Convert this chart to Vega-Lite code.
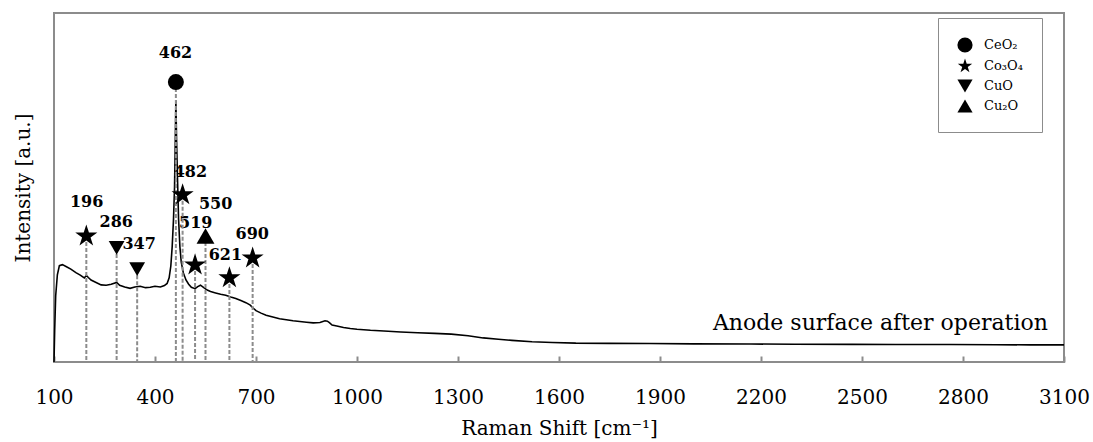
{
  "$schema": "https://vega.github.io/schema/vega-lite/v6.json",
  "width": 1010,
  "height": 349,
  "autosize": {"type": "none"},
  "padding": {"left": 54, "top": 13, "right": 29, "bottom": 80},
  "background": "white",
  "config": {
    "view": {"stroke": "#8c8c8c", "strokeWidth": 2},
    "font": "DejaVu Serif"
  },
  "datasets": {
    "spectrum": [
      {"shift": 100, "intensity": 0}, {"shift": 102, "intensity": 9}, {"shift": 105, "intensity": 19},
      {"shift": 110, "intensity": 25}, {"shift": 116, "intensity": 27.6}, {"shift": 125, "intensity": 27.9},
      {"shift": 137, "intensity": 27.3}, {"shift": 150, "intensity": 26.6}, {"shift": 165, "intensity": 25.6},
      {"shift": 178, "intensity": 24.9}, {"shift": 190, "intensity": 24.1}, {"shift": 196, "intensity": 24.8},
      {"shift": 202, "intensity": 24.2}, {"shift": 210, "intensity": 23.5}, {"shift": 225, "intensity": 22.8},
      {"shift": 240, "intensity": 22.1}, {"shift": 255, "intensity": 22.0}, {"shift": 270, "intensity": 22.3},
      {"shift": 286, "intensity": 22.8}, {"shift": 295, "intensity": 22.0}, {"shift": 310, "intensity": 21.5},
      {"shift": 326, "intensity": 21.1}, {"shift": 340, "intensity": 21.5}, {"shift": 356, "intensity": 21.7},
      {"shift": 372, "intensity": 21.3}, {"shift": 386, "intensity": 21.4}, {"shift": 400, "intensity": 21.7},
      {"shift": 416, "intensity": 21.5}, {"shift": 428, "intensity": 21.9}, {"shift": 436, "intensity": 22.5},
      {"shift": 442, "intensity": 24.1}, {"shift": 447, "intensity": 27.5}, {"shift": 451, "intensity": 33},
      {"shift": 455, "intensity": 41}, {"shift": 458, "intensity": 50}, {"shift": 460, "intensity": 62},
      {"shift": 462, "intensity": 75}, {"shift": 464, "intensity": 64}, {"shift": 467, "intensity": 52},
      {"shift": 470, "intensity": 41}, {"shift": 474, "intensity": 33}, {"shift": 478, "intensity": 28.6},
      {"shift": 484, "intensity": 25.6}, {"shift": 492, "intensity": 23.5}, {"shift": 500, "intensity": 22.3},
      {"shift": 508, "intensity": 21.4}, {"shift": 519, "intensity": 21.0}, {"shift": 527, "intensity": 21.6},
      {"shift": 535, "intensity": 22.0}, {"shift": 545, "intensity": 21.3}, {"shift": 555, "intensity": 20.6},
      {"shift": 565, "intensity": 20.2}, {"shift": 580, "intensity": 19.8}, {"shift": 595, "intensity": 19.4},
      {"shift": 610, "intensity": 19.1}, {"shift": 625, "intensity": 18.6}, {"shift": 640, "intensity": 18.2},
      {"shift": 655, "intensity": 17.6}, {"shift": 670, "intensity": 17.0}, {"shift": 683, "intensity": 16.3},
      {"shift": 692, "intensity": 15.4}, {"shift": 700, "intensity": 14.7}, {"shift": 715, "intensity": 14.0},
      {"shift": 730, "intensity": 13.4}, {"shift": 750, "intensity": 12.9}, {"shift": 770, "intensity": 12.4},
      {"shift": 790, "intensity": 12.1}, {"shift": 810, "intensity": 11.8}, {"shift": 830, "intensity": 11.6},
      {"shift": 850, "intensity": 11.4}, {"shift": 870, "intensity": 11.2}, {"shift": 890, "intensity": 11.3},
      {"shift": 905, "intensity": 11.8}, {"shift": 912, "intensity": 11.7}, {"shift": 918, "intensity": 11.3},
      {"shift": 926, "intensity": 10.6}, {"shift": 940, "intensity": 10.3}, {"shift": 960, "intensity": 9.9},
      {"shift": 980, "intensity": 9.6}, {"shift": 1000, "intensity": 9.4}, {"shift": 1040, "intensity": 9.1},
      {"shift": 1080, "intensity": 8.9}, {"shift": 1130, "intensity": 8.6}, {"shift": 1180, "intensity": 8.4},
      {"shift": 1230, "intensity": 8.2}, {"shift": 1280, "intensity": 8.0}, {"shift": 1330, "intensity": 7.5},
      {"shift": 1375, "intensity": 6.9}, {"shift": 1420, "intensity": 6.5}, {"shift": 1460, "intensity": 6.2},
      {"shift": 1520, "intensity": 5.8}, {"shift": 1580, "intensity": 5.6}, {"shift": 1650, "intensity": 5.4},
      {"shift": 1750, "intensity": 5.35}, {"shift": 1870, "intensity": 5.3}, {"shift": 2000, "intensity": 5.2},
      {"shift": 2170, "intensity": 5.15}, {"shift": 2300, "intensity": 5.1}, {"shift": 2470, "intensity": 5.05},
      {"shift": 2600, "intensity": 5.0}, {"shift": 2760, "intensity": 5.0}, {"shift": 2900, "intensity": 4.95},
      {"shift": 3000, "intensity": 4.9}, {"shift": 3100, "intensity": 4.9}
    ],
    "peaks": [
      {"peak": 196, "intensity": 36.1, "phase": "Co₃O₄", "label_shift": 197, "label_intensity": 45.8},
      {"peak": 286, "intensity": 32.7, "phase": "CuO", "label_shift": 285, "label_intensity": 40.1},
      {"peak": 347, "intensity": 26.6, "phase": "CuO", "label_shift": 353, "label_intensity": 33.8},
      {"peak": 462, "intensity": 80.2, "phase": "CeO₂", "label_shift": 461, "label_intensity": 88.5},
      {"peak": 482, "intensity": 47.9, "phase": "Co₃O₄", "label_shift": 505, "label_intensity": 54.4},
      {"peak": 519, "intensity": 27.8, "phase": "Co₃O₄", "label_shift": 521, "label_intensity": 39.8},
      {"peak": 550, "intensity": 36.1, "phase": "Cu₂O", "label_shift": 580, "label_intensity": 45.3},
      {"peak": 621, "intensity": 24.1, "phase": "Co₃O₄", "label_shift": 609, "label_intensity": 30.7},
      {"peak": 690, "intensity": 29.8, "phase": "Co₃O₄", "label_shift": 689, "label_intensity": 36.7}
    ],
    "notes": [
      {"shift": 3052, "intensity": 9.2, "text": "Anode surface after operation"}
    ]
  },
  "layer": [
    {
      "data": {"name": "spectrum"},
      "mark": {"type": "line", "color": "black", "strokeWidth": 1.6},
      "encoding": {
        "x": {
          "field": "shift", "type": "quantitative",
          "scale": {"domain": [100, 3100], "nice": false, "zero": false},
          "axis": {
            "title": "Raman Shift [cm⁻¹]",
            "values": [100, 400, 700, 1000, 1300, 1600, 1900, 2200, 2500, 2800, 3100],
            "format": "d",
            "domain": false, "grid": false,
            "tickSize": -6, "tickColor": "#8c8c8c", "tickWidth": 2,
            "labelFontSize": 20, "labelColor": "black", "labelPadding": 31, "labelFlush": false,
            "titleFontSize": 20, "titleFontWeight": "normal", "titleColor": "black", "titlePadding": 11
          }
        },
        "y": {
          "field": "intensity", "type": "quantitative",
          "scale": {"domain": [0, 100], "nice": false},
          "axis": {
            "title": "Intensity [a.u.]",
            "labels": false, "ticks": false, "domain": false, "grid": false,
            "titleFontSize": 20, "titleFontWeight": "normal", "titleColor": "black", "titlePadding": 21
          }
        }
      }
    },
    {
      "data": {"name": "peaks"},
      "mark": {"type": "text", "fontWeight": "bold", "fontSize": 16, "align": "center", "baseline": "middle", "color": "black"},
      "encoding": {
        "x": {"field": "label_shift", "type": "quantitative"},
        "y": {"field": "label_intensity", "type": "quantitative"},
        "text": {"field": "peak"}
      }
    },
    {
      "data": {"name": "peaks"},
      "mark": {"type": "rule", "color": "#8c8c8c", "strokeWidth": 2, "strokeDash": [4, 2]},
      "encoding": {
        "x": {"field": "peak", "type": "quantitative"},
        "y": {"field": "intensity", "type": "quantitative"},
        "y2": {"datum": 0}
      }
    },
    {
      "data": {"name": "peaks"},
      "mark": {"type": "point", "filled": true, "opacity": 1, "color": "black"},
      "encoding": {
        "x": {"field": "peak", "type": "quantitative"},
        "y": {"field": "intensity", "type": "quantitative"},
        "shape": {
          "field": "phase", "type": "nominal",
          "scale": {
            "domain": ["CeO₂", "Co₃O₄", "CuO", "Cu₂O"],
            "range": [
              "circle",
              "M0,-1L0.2245,-0.309L0.9511,-0.309L0.3633,0.118L0.5878,0.809L0,0.382L-0.5878,0.809L-0.3633,0.118L-0.9511,-0.309L-0.2245,-0.309Z",
              "triangle-down",
              "triangle-up"
            ]
          },
          "legend": {
            "title": null, "orient": "none", "legendX": 884, "legendY": 5,
            "strokeColor": "#8c8c8c", "padding": 19,
            "symbolSize": 230, "symbolFillColor": "black", "symbolStrokeColor": "black", "symbolStrokeWidth": 0,
            "labelFontSize": 13, "labelColor": "black", "labelOffset": 11, "rowPadding": 5,
            "encode": {"legend": {"update": {"strokeWidth": {"value": 2}}}}
          }
        },
        "size": {
          "condition": [
            {"test": "datum.phase === 'Co₃O₄'", "value": 540},
            {"test": "datum.phase === 'Cu₂O'", "value": 320},
            {"test": "datum.phase === 'CuO'", "value": 250}
          ],
          "value": 256
        }
      }
    },
    {
      "data": {"name": "notes"},
      "mark": {"type": "text", "align": "right", "baseline": "alphabetic", "fontSize": 22, "color": "black"},
      "encoding": {
        "x": {"field": "shift", "type": "quantitative"},
        "y": {"field": "intensity", "type": "quantitative"},
        "text": {"field": "text"}
      }
    }
  ]
}
